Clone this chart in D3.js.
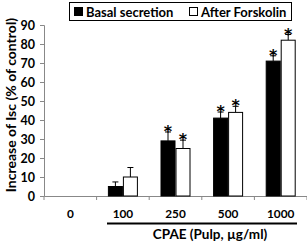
<!DOCTYPE html>
<html>
<head>
<meta charset="utf-8">
<script src="https://cdn.jsdelivr.net/npm/d3@7"></script>
<style>
  body { margin: 0; background: #fff; }
  text { font-family: Lato, "Open Sans", sans-serif; font-weight: bold; }
</style>
</head>
<body>
<div id="app"></div>
<script>
const doses = ['0', '100', '250', '500', '1000']
const basal = [0, 5, 29, 41, 71]
const basalErr = [0, 2.4, 4.7, 3.2, 2.8]
const forskolin = [0, 10, 25, 44, 82]
const forskolinErr = [0, 5, 4.4, 3.2, 3]
const starred = [false, false, true, true, true]
const yTicks = [0, 10, 20, 30, 40, 50, 60, 70, 80, 90]

const w = 307, h = 245
const svg = d3.select('#app').append('svg').attr('width', w).attr('height', h)

const x = d3.scaleBand().domain(doses).range([44, 307])
const y = d3.scaleLinear().domain([0, 90]).range([196, 25])
const barW = 15

// y axis
const yAxis = svg.append('g').attr('transform', 'translate(44,0)')
  .call(d3.axisLeft(y).tickValues(yTicks).tickSize(4).tickPadding(5))
yAxis.select('.domain').attr('stroke', '#888')
yAxis.selectAll('line').attr('stroke', '#888')
yAxis.selectAll('text').attr('font-size', 12.5).attr('fill', '#000')

// x axis
const xAxis = svg.append('g').attr('transform', 'translate(0,196)')
  .call(d3.axisBottom(x).tickSize(0).tickFormat(() => ''))
xAxis.select('.domain').attr('stroke', '#888')
const bounds = doses.map(d => x(d)).concat([x.range()[1]])
xAxis.selectAll('.sep').data(bounds).enter().append('line')
  .attr('x1', d => d).attr('x2', d => d).attr('y1', 0).attr('y2', 4)
  .attr('stroke', '#888')

svg.append('g').selectAll('text').data(doses).enter().append('text')
  .attr('x', d => x(d) + x.bandwidth() / 2)
  .attr('y', 218)
  .attr('text-anchor', 'middle')
  .attr('font-size', 11.8)
  .text(d => d)

// bars
const series = [
  {vals: basal, errs: basalErr, fill: '#000', off: -barW},
  {vals: forskolin, errs: forskolinErr, fill: '#fff', off: 0}
]
series.forEach(function (s) {
  const g = svg.append('g')
  const rows = doses.map((d, i) => ({d: d, v: s.vals[i], e: s.errs[i], star: starred[i]}))
    .filter(r => r.v > 0)
  const cx = r => x(r.d) + x.bandwidth() / 2 + s.off
  g.selectAll('line.err').data(rows).enter().append('line')
    .attr('x1', r => cx(r) + barW / 2).attr('x2', r => cx(r) + barW / 2)
    .attr('y1', r => y(r.v)).attr('y2', r => y(r.v + r.e))
    .attr('stroke', '#000').attr('stroke-width', 1)
  g.selectAll('line.cap').data(rows).enter().append('line')
    .attr('x1', r => cx(r) + barW / 2 - 3).attr('x2', r => cx(r) + barW / 2 + 3)
    .attr('y1', r => y(r.v + r.e)).attr('y2', r => y(r.v + r.e))
    .attr('stroke', '#000').attr('stroke-width', 1)
  g.selectAll('rect').data(rows).enter().append('rect')
    .attr('x', r => cx(r) + 0.5)
    .attr('y', r => y(r.v))
    .attr('width', barW - 1)
    .attr('height', r => 196 - y(r.v))
    .attr('fill', s.fill)
    .attr('stroke', '#000').attr('stroke-width', 1)
  g.selectAll('text').data(rows.filter(r => r.star)).enter().append('text')
    .attr('x', r => cx(r) + barW / 2)
    .attr('y', r => y(r.v + r.e) + 5)
    .attr('text-anchor', 'middle')
    .attr('font-size', 16)
    .attr('font-weight', 'normal')
    .style('font-family', '"DejaVu Sans", sans-serif')
    .text('*')
})

// underline and x title
svg.append('line').attr('x1', 107).attr('x2', 297).attr('y1', 223.5).attr('y2', 223.5)
  .attr('stroke', '#000').attr('stroke-width', 2)
svg.append('text').attr('x', 210).attr('y', 239).attr('text-anchor', 'middle')
  .attr('font-size', 13.5).text('CPAE (Pulp, µg/ml)')

// y title
svg.append('text')
  .attr('transform', 'translate(16,105) rotate(-90)')
  .attr('text-anchor', 'middle')
  .attr('font-size', 14)
  .text('Increase of Isc (% of control)')

// legend
const lg = svg.append('g')
lg.append('rect').attr('x', 69.5).attr('y', 2.5).attr('width', 222).attr('height', 18)
  .attr('fill', '#fff').attr('stroke', '#000')
lg.append('rect').attr('x', 74).attr('y', 7).attr('width', 9).attr('height', 9).attr('fill', '#000')
lg.append('text').attr('x', 86).attr('y', 16.5).attr('font-size', 13).text('Basal secretion')
lg.append('rect').attr('x', 189.5).attr('y', 7.5).attr('width', 8).attr('height', 8)
  .attr('fill', '#fff').attr('stroke', '#000')
lg.append('text').attr('x', 201).attr('y', 16.5).attr('font-size', 13).text('After Forskolin')
</script>
</body>
</html>
